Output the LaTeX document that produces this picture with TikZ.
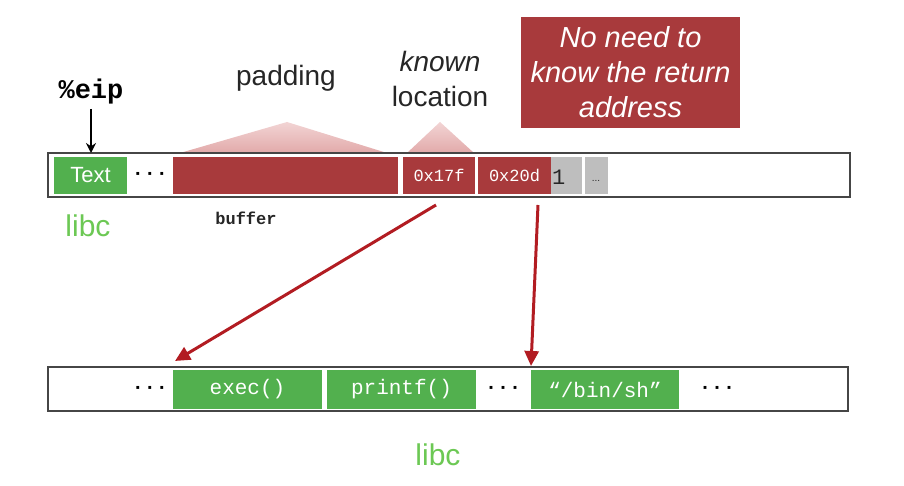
\documentclass[tikz,border=0pt]{standalone}
\usepackage{fontspec}
\setmainfont{Liberation Sans}
\setmonofont{Liberation Mono}
\usetikzlibrary{arrows.meta,calc}

\definecolor{blockred}{RGB}{168,58,60}
\definecolor{blockgreen}{RGB}{82,176,78}
\definecolor{libcgreen}{RGB}{108,200,84}
\definecolor{slotgray}{RGB}{190,190,190}
\definecolor{pinklow}{RGB}{226,170,170}
\definecolor{pinkhigh}{RGB}{242,212,212}
\definecolor{arrowred}{RGB}{178,28,34}
\definecolor{framegray}{RGB}{70,70,70}

\tikzset{
  cell/.style={anchor=north west, inner sep=0pt, outer sep=0pt},
  memframe/.style={cell, draw=framegray, line width=1.3pt, fill=white},
  redcell/.style={cell, fill=blockred, text=white,
    font=\fontsize{17}{17}\selectfont\ttfamily},
  greencell/.style={cell, fill=blockgreen, text=white,
    font=\fontsize{21}{21}\selectfont\ttfamily},
  graycell/.style={cell, fill=slotgray, text=black!85},
  dots/.style={inner sep=0pt, font=\fontsize{20}{20}\selectfont\ttfamily\bfseries},
  biglabel/.style={inner sep=0pt, text=black!85, font=\fontsize{28}{30}\selectfont},
  libclabel/.style={inner sep=0pt, text=libcgreen, font=\fontsize{30}{30}\selectfont},
  hint/.style={draw=none, bottom color=pinklow, top color=pinkhigh},
  jump/.style={draw=arrowred, line width=3pt,
    -{Triangle[length=15pt,width=14pt]}}
}

\begin{document}
\begin{tikzpicture}[x=1pt, y=-1pt]
  \useasboundingbox (0,0) rectangle (904,486);

  % pointers from the labels down to the stack slots
  \path[hint] (180,153) -- (287,122) -- (387,153) -- cycle;
  \path[hint] (407,153) -- (440,122) -- (474,153) -- cycle;

  % stack, top row
  \node[memframe, minimum width=802pt, minimum height=44pt] (stack) at (48,153) {};
  \node[cell, fill=blockgreen, text=white, font=\fontsize{22}{22}\selectfont,
        minimum width=73pt, minimum height=37pt] (textseg) at (54,157) {Text};
  \node[dots] (sdots) at (150,176) {···};
  \node[redcell, minimum width=225pt, minimum height=37pt] (buf) at (173,157) {};
  \node[redcell, minimum width=72pt, minimum height=37pt] (addrA) at (403,157) {0x17f};
  \node[redcell, minimum width=73pt, minimum height=37pt] (addrB) at (478,157) {0x20d};
  \node[graycell, minimum width=31pt, minimum height=37pt] (argone) at (551,157) {};
  \node[anchor=west, inner sep=0pt, text=black!85,
        font=\fontsize{22}{22}\selectfont\ttfamily] (onetxt) at (552,177) {1};
  \node[graycell, minimum width=23pt, minimum height=37pt] (argmore) at (585,157) {};
  \node[inner sep=0pt, text=black!85, font=\fontsize{10}{10}\selectfont] (moretxt)
        at (596,181) {...};

  % labels above the stack
  \node[biglabel] (padlbl) at (286,78) {padding};
  \node[biglabel, font=\fontsize{28}{30}\selectfont\itshape] (knownlbl) at (440,61) {known};
  \node[biglabel] (loclbl) at (440,96) {location};
  \node[cell, fill=blockred, text=white, align=center,
        minimum width=219pt, minimum height=111pt,
        font=\fontsize{29}{35}\selectfont\itshape] (note) at (521,17)
        {No need to\\know the return\\address};

  % instruction pointer
  \node[inner sep=0pt, font=\fontsize{27}{27}\selectfont\ttfamily\bfseries] (eip) at (91,92) {\%eip};
  \draw[line width=1.5pt, -{Stealth[length=10pt,width=10pt]}]
    (eip.south) ++(0,4) coordinate (eipfoot) (eipfoot) -- (eipfoot |- stack.north);

  \node[libclabel] (libctop) at (88,226) {libc};
  \node[inner sep=0pt, font=\fontsize{17}{17}\selectfont\ttfamily\bfseries, text=black!85]
        (buflbl) at (246,218) {buffer};

  % libc memory, bottom row
  \node[memframe, minimum width=800pt, minimum height=44pt] (libc) at (48,367) {};
  \node[dots] (ldotsA) at (150,390) {···};
  \node[greencell, minimum width=149pt, minimum height=39pt] (exec) at (173,370) {exec()};
  \node[greencell, minimum width=149pt, minimum height=39pt] (printf) at (327,370) {printf()};
  \node[dots] (ldotsB) at (503,390) {···};
  \node[greencell, minimum width=148pt, minimum height=39pt] (binsh) at (531,370) {“/bin/sh”};
  \node[dots] (ldotsC) at (717,390) {···};
  \node[libclabel] (libcbot) at (438,455) {libc};

  % return-to-libc jumps
  \coordinate (fromA) at (436,205);
  \coordinate (fromB) at (538,205);
  \draw[jump] (fromA) -- ($(exec.north west)+(2,-9)$);
  \draw[jump] (fromB) -- ($(binsh.north west)+(0,-4)$);
\end{tikzpicture}
\end{document}
